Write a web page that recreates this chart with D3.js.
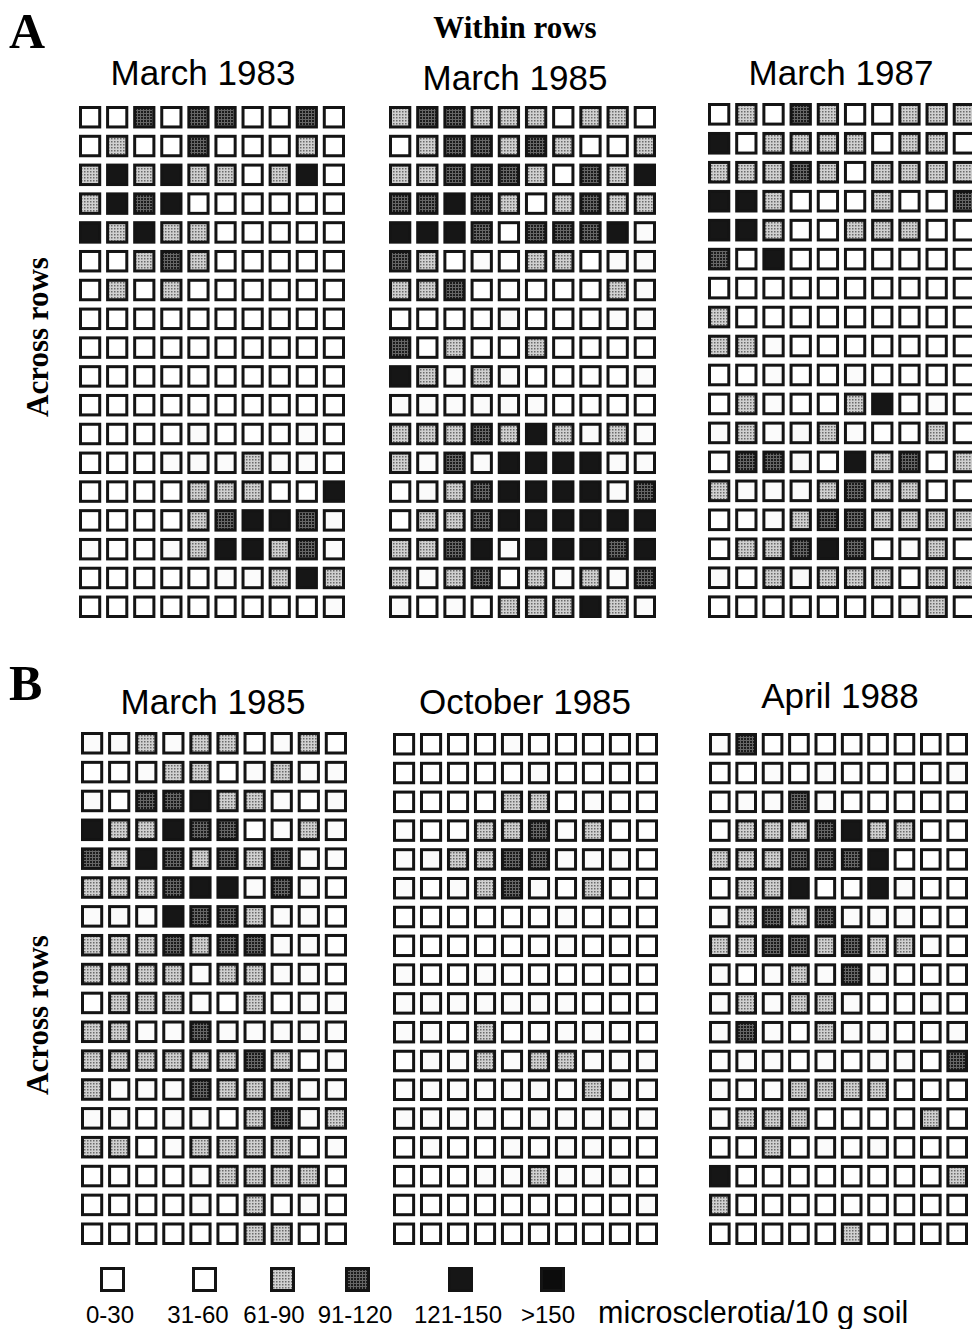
<!DOCTYPE html>
<html>
<head>
<meta charset="utf-8">
<script src="https://cdn.jsdelivr.net/npm/d3@7"></script>
<style>
  body { margin: 0; background: #fff; }
</style>
</head>
<body>
<script>
// class codes per cell: 0 = 0-30, 1 = 31-60, 2 = 61-90, 3 = 91-120, 4 = 121-150, 5 = >150
const march1983 = [
  "0030330030", "0200300020", "2424220240", "2434000000", "4242200000", "0023200000",
  "0202000000", "0000000000", "0000000000", "0000000000", "0000000000", "0000100010",
  "0001112110", "0000222004", "0000234431", "1001244231", "0000011242", "0000000001"
];
const march1985a = [
  "2332220220", "0233232002", "2233320324", "3343202322", "4443033341", "3201022011",
  "2230000021", "0000100011", "3020020000", "4212100001", "1111110000", "2223242121",
  "2131444411", "0123444413", "0223444444", "2234144434", "2123021213", "1010222421"
];
const march1987 = [
  "0203200222", "4022220220", "2223202222", "4420002003", "4420022200", "3040000000",
  "0000000000", "2000000000", "2210000000", "0010010000", "0210024010", "1211210020",
  "0331042302", "2111232200", "0012332222", "0223430120", "1021222022", "0000000120"
];
const march1985b = [
  "1121220120", "0012201211", "1033422101", "4224330121", "3243232311", "2223441310",
  "1114332110", "2223233110", "2222122110", "0222102011", "2211311111", "2222223201",
  "2111322211", "1101102312", "2201222201", "0000122220", "0000102010", "0000002200"
];
const october1985 = [
  "0000100000", "0000010000", "0000220100", "1002231200", "1122331110", "1012310200",
  "0000001000", "0000001000", "1001000000", "1111111000", "1102001100", "0112122111",
  "1111111211", "1111011111", "0100101100", "0001121110", "0000000001", "0000000000"
];
const april1988 = [
  "1300000000", "0010100001", "0113100000", "0222342200", "2223334000", "0224004100",
  "1232311100", "2233232210", "1012131000", "1212210010", "1310211001", "0110101103",
  "1112222000", "1222000020", "0020101000", "4000000002", "2000000000", "0000020000"
];

const classLabels = ["0-30", "31-60", "61-90", "91-120", "121-150", ">150"];
const unitLabel = "microsclerotia/10 g soil";

const width = 972, height = 1329;
const svg = d3.select("body").append("svg")
  .attr("width", width)
  .attr("height", height)
  .style("font-family", "'Liberation Sans', Arial, sans-serif");

// stipple textures for the shaded classes
const defs = svg.append("defs");
const light = defs.append("pattern").attr("id", "light")
  .attr("width", 3).attr("height", 3).attr("patternUnits", "userSpaceOnUse");
light.append("rect").attr("width", 3).attr("height", 3).attr("fill", "#d0d0d0");
light.append("rect").attr("width", 1.5).attr("height", 1.5).attr("fill", "#6a6a6a");
const dark = defs.append("pattern").attr("id", "dark")
  .attr("width", 3).attr("height", 3).attr("patternUnits", "userSpaceOnUse");
dark.append("rect").attr("width", 3).attr("height", 3).attr("fill", "#666");
dark.append("rect").attr("width", 2).attr("height", 2).attr("fill", "#1c1c1c");

const fillScale = d3.scaleOrdinal()
  .domain(d3.range(6))
  .range(["#ffffff", "#fbfbfb", "url(#light)", "url(#dark)", "#161616", "#0c0c0c"]);

const panels = [
  { title: "March 1983", rows: march1983, x: [79, 345], y: [106, 618], tx: 203, ty: 85 },
  { title: "March 1985", rows: march1985a, x: [389, 656], y: [106, 618], tx: 515, ty: 90 },
  { title: "March 1987", rows: march1987, x: [708, 975], y: [103, 618], tx: 841, ty: 85 },
  { title: "March 1985", rows: march1985b, x: [81, 347], y: [732, 1245], tx: 213, ty: 714 },
  { title: "October 1985", rows: october1985, x: [393, 658], y: [733, 1245], tx: 525, ty: 714 },
  { title: "April 1988", rows: april1988, x: [709, 968], y: [733, 1245], tx: 840, ty: 708 }
];

panels.forEach(p => {
  const cells = [];
  p.rows.forEach((r, i) => r.split("").forEach((c, j) => cells.push({ row: i, col: j, v: +c })));

  const x = d3.scaleBand().domain(d3.range(10)).range(p.x).paddingInner(0.18);
  const y = d3.scaleBand().domain(d3.range(p.rows.length)).range(p.y).paddingInner(0.22);

  const g = svg.append("g");
  g.selectAll("rect")
    .data(cells)
    .enter()
    .append("rect")
    .attr("x", d => x(d.col) + 1.5)
    .attr("y", d => y(d.row) + 1.5)
    .attr("width", x.bandwidth() - 3)
    .attr("height", y.bandwidth() - 3)
    .attr("fill", d => fillScale(d.v))
    .attr("stroke", "#141414")
    .attr("stroke-width", 3);

  svg.append("text")
    .attr("x", p.tx)
    .attr("y", p.ty)
    .attr("text-anchor", "middle")
    .style("font-size", "35px")
    .text(p.title);
});

// panel letters and axis words
const serif = "'Liberation Serif', 'Times New Roman', serif";
svg.append("text").attr("x", 9).attr("y", 48)
  .style("font-family", serif).style("font-weight", "bold").style("font-size", "50px").text("A");
svg.append("text").attr("x", 9).attr("y", 700)
  .style("font-family", serif).style("font-weight", "bold").style("font-size", "50px").text("B");
svg.append("text").attr("x", 515).attr("y", 38).attr("text-anchor", "middle")
  .style("font-family", serif).style("font-weight", "bold").style("font-size", "31px").text("Within rows");
[337, 1015].forEach(cy => {
  svg.append("text")
    .attr("transform", `translate(48,${cy}) rotate(-90)`)
    .attr("text-anchor", "middle")
    .style("font-family", serif).style("font-weight", "bold").style("font-size", "31px")
    .text("Across rows");
});

// legend
const legendBoxX = [100, 192, 270, 345, 448, 540];
const legendLabelX = [110, 198, 274, 355, 458, 548];
const legend = svg.append("g").attr("id", "legend");
legend.selectAll("rect")
  .data(d3.range(6))
  .enter()
  .append("rect")
  .attr("x", (d, i) => legendBoxX[i] + 1.5)
  .attr("y", 1268.5)
  .attr("width", 22)
  .attr("height", 22)
  .attr("fill", d => d === 1 ? "#ffffff" : fillScale(d))
  .attr("stroke", "#141414")
  .attr("stroke-width", 3);
legend.selectAll("text.cls")
  .data(classLabels)
  .enter()
  .append("text")
  .attr("class", "cls")
  .attr("x", (d, i) => legendLabelX[i])
  .attr("y", 1323)
  .attr("text-anchor", "middle")
  .style("font-size", "24px")
  .text(d => d);
legend.append("text")
  .attr("x", 598)
  .attr("y", 1323)
  .style("font-size", "30.5px")
  .text(unitLabel);
</script>
</body>
</html>
